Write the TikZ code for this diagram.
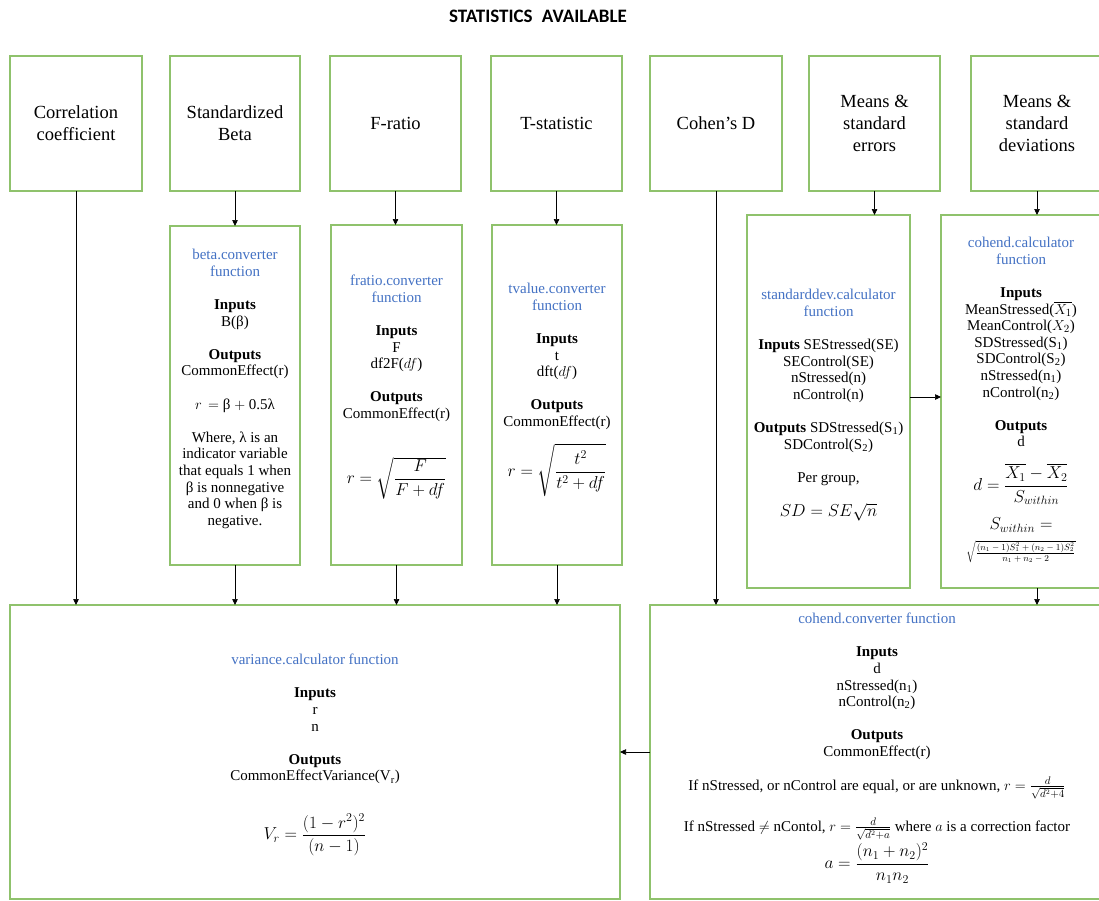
\documentclass[tikz,border=0pt]{standalone}
\usepackage{amsmath}
\usepackage{fontspec}
\setmainfont{Liberation Serif}
\newfontfamily\titlefont{Carlito}
\usetikzlibrary{arrows.meta}
\definecolor{boxgreen}{RGB}{143,194,108}
\definecolor{hdr}{RGB}{68,114,196}
\begin{document}
\begin{tikzpicture}[x=1pt,y=-1pt,
  box/.style={draw=boxgreen, line width=1.2pt, inner sep=0pt, outer sep=0pt},
  topbox/.style={box, minimum height=135pt, align=center, font=\fontsize{18.5}{22}\selectfont},
  txt/.style={align=center, inner sep=0pt, anchor=north, font=\fontsize{15}{16.6}\selectfont},
  fml/.style={inner sep=0pt, align=center, font=\fontsize{15}{18}\selectfont},
  bigfml/.style={fml, font=\fontsize{16.5}{19}\selectfont},
  arr/.style={-{Triangle[length=6pt,width=5.5pt]}, line width=0.7pt, black}]
\useasboundingbox (0,0) rectangle (1099,900);
\fill[white] (0,0) rectangle (1099,900);

\node[font=\fontsize{19}{21}\selectfont\titlefont\bfseries, inner sep=0pt] (title) at (538,16) {STATISTICS\hspace{5pt} AVAILABLE};

% top row
\node[topbox, minimum width=132pt] (corr) at (76,123.5) {Correlation\\coefficient};
\node[topbox, minimum width=130pt] (sbeta) at (235,123.5) {Standardized\\Beta};
\node[topbox, minimum width=131pt] (fratio) at (395.5,123.5) {F-ratio};
\node[topbox, minimum width=131pt] (tstat) at (556.5,123.5) {T-statistic};
\node[topbox, minimum width=132pt] (cohen) at (716,123.5) {Cohen’s D};
\node[topbox, minimum width=131pt] (mse) at (874.5,123.5) {Means \&\\standard\\errors};
\node[topbox, minimum width=132pt] (msd) at (1037,123.5) {Means \&\\standard\\deviations};

% middle boxes
\node[box, minimum width=130pt, minimum height=339pt] (betab) at (235,395.5) {};
\node[box, minimum width=131pt, minimum height=340pt] (fratiob) at (396.5,395) {};
\node[box, minimum width=130pt, minimum height=340pt] (tvalb) at (557,395) {};
\node[box, minimum width=163pt, minimum height=373pt] (sdb) at (828.5,401.5) {};
\node[box, minimum width=161pt, minimum height=373pt] (cdb) at (1021.5,401.5) {};

% bottom boxes
\node[box, minimum width=610pt, minimum height=294pt] (varb) at (315,752) {};
\node[box, minimum width=454pt, minimum height=294pt] (convb) at (877,752) {};

% beta converter
\node[txt] (betat) at (235,249) {\textcolor{hdr}{beta.converter}\\\textcolor{hdr}{function}\\[16.6pt]
\textbf{Inputs}\\B(β)\\[16.6pt]
\textbf{Outputs}\\CommonEffect(r)\\[16.6pt]
$r\,=$ β $+$ 0.5λ\\[16.6pt]
Where, λ is an\\indicator variable\\that equals 1 when\\β is nonnegative\\and 0 when β is\\negative.};

% fratio converter
\node[txt] (fratiot) at (396.5,275) {\textcolor{hdr}{fratio.converter}\\\textcolor{hdr}{function}\\[16.6pt]
\textbf{Inputs}\\F\\df2F($df$)\\[16.6pt]
\textbf{Outputs}\\CommonEffect(r)};
\node[bigfml] (fratiof) at (396.5,478) {$r = \sqrt{\dfrac{F}{F+df}}$};

% tvalue converter
\node[txt] (tvalt) at (557,283) {\textcolor{hdr}{tvalue.converter}\\\textcolor{hdr}{function}\\[16.6pt]
\textbf{Inputs}\\t\\dft($df$)\\[16.6pt]
\textbf{Outputs}\\CommonEffect(r)};
\node[bigfml] (tvalf) at (557,470) {$r = \sqrt{\dfrac{t^2}{t^2+df}}$};

% standarddev calculator
\node[txt] (sdt) at (828.5,289) {\textcolor{hdr}{standarddev.calculator}\\\textcolor{hdr}{function}\\[16.6pt]
\textbf{Inputs} SEStressed(SE)\\SEControl(SE)\\nStressed(n)\\nControl(n)\\[16.6pt]
\textbf{Outputs} SDStressed(S\textsubscript{1})\\SDControl(S\textsubscript{2})\\[16.6pt]
Per group,\\[16.6pt]
{\fontsize{16.5}{16.6}\selectfont $SD = SE\sqrt{n}$}};

% cohend calculator
\node[txt] (cdt) at (1021,237) {\textcolor{hdr}{cohend.calculator}\\\textcolor{hdr}{function}\\[16.6pt]
\textbf{Inputs}\\MeanStressed($\overline{X_1}$)\\MeanControl($X_2$)\\SDStressed(S\textsubscript{1})\\SDControl(S\textsubscript{2})\\nStressed(n\textsubscript{1})\\nControl(n\textsubscript{2})\\[16.6pt]
\textbf{Outputs}\\d};
\node[bigfml] (cdf1) at (1021,484) {$d = \dfrac{\overline{X_1}-\overline{X_2}}{S_{within}}$};
\node[bigfml] (cdf2) at (1021,525) {$S_{within} =$};
\node[fml, font=\fontsize{9}{10}\selectfont] (cdf3) at (1021,552) {$\sqrt{\dfrac{(n_1-1)S_1^2+(n_2-1)S_2^2}{n_1+n_2-2}}$};

% cohend converter
\node[txt] (convt) at (877,613) {\textcolor{hdr}{cohend.converter function}\\[16.6pt]
\textbf{Inputs}\\d\\nStressed(n\textsubscript{1})\\nControl(n\textsubscript{2})\\[16.6pt]
\textbf{Outputs}\\CommonEffect(r)};
\node[fml] (convf1) at (877,788) {If nStressed, or nControl are equal, or are unknown, $r = \frac{d}{\sqrt{d^2+4}}$};
\node[fml] (convf2) at (877,829) {If nStressed $\neq$ nContol, $r = \frac{d}{\sqrt{d^2+a}}$ where $a$ is a correction factor};
\node[bigfml] (convf3) at (877,863) {$a = \dfrac{(n_1+n_2)^2}{n_1 n_2}$};

% variance calculator
\node[txt] (vart) at (315,654) {\textcolor{hdr}{variance.calculator function}\\[16.6pt]
\textbf{Inputs}\\r\\n\\[16.6pt]
\textbf{Outputs}\\CommonEffectVariance(V\textsubscript{r})};
\node[bigfml] (varf) at (315,835) {$V_r = \dfrac{(1-r^2)^2}{(n-1)}$};

% arrows
\draw[arr] (corr.south) -- (corr.south |- varb.north);
\draw[arr] (sbeta.south) -- (sbeta.south |- betab.north);
\draw[arr] (betab.south) -- (betab.south |- varb.north);
\draw[arr] (fratio.south) -- (fratio.south |- fratiob.north);
\draw[arr] (fratiob.south) -- (fratiob.south |- varb.north);
\draw[arr] (tstat.south) -- (tstat.south |- tvalb.north);
\draw[arr] (tvalb.south) -- (tvalb.south |- varb.north);
\draw[arr] (cohen.south) -- (cohen.south |- convb.north);
\draw[arr] (mse.south) -- (mse.south |- sdb.north);
\draw[arr] (msd.south) -- (msd.south |- cdb.north);
\draw[arr] (msd.south |- cdb.south) -- (msd.south |- convb.north);
\draw[arr] ([yshift=4.5pt]sdb.east) -- ([yshift=4.5pt]cdb.west);
\draw[arr] (convb.west) -- (varb.east);
\end{tikzpicture}
\end{document}
